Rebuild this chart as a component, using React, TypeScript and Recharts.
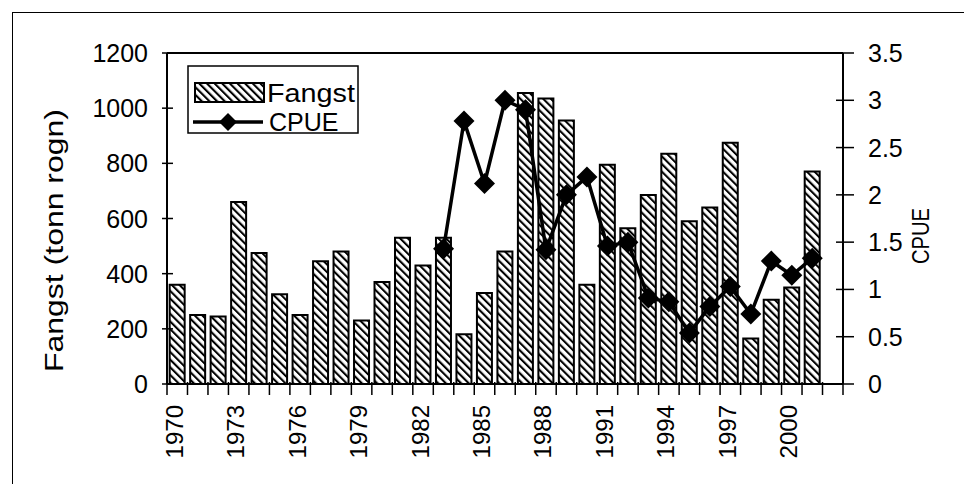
import React from 'react';
import { ComposedChart, Bar, Line, XAxis, YAxis, Legend, ReferenceLine } from 'recharts';

// Fangst (tonn rogn) og CPUE, 1970-2001 (2002 is an empty category, like the original sheet)
const years = [
  1970, 1971, 1972, 1973, 1974, 1975, 1976, 1977, 1978, 1979, 1980,
  1981, 1982, 1983, 1984, 1985, 1986, 1987, 1988, 1989, 1990, 1991,
  1992, 1993, 1994, 1995, 1996, 1997, 1998, 1999, 2000, 2001, 2002,
];
const fangst = [
  360, 250, 245, 660, 475, 325, 250, 445, 480, 230, 370,
  530, 430, 530, 180, 330, 480, 1055, 1035, 955, 360, 795,
  565, 685, 835, 590, 640, 875, 165, 305, 350, 770, null,
];
const cpue = [
  null, null, null, null, null, null, null, null, null, null, null,
  null, null, 1.43, 2.78, 2.12, 3.0, 2.9, 1.42, 2.0, 2.19, 1.46,
  1.5, 0.91, 0.87, 0.54, 0.82, 1.03, 0.74, 1.3, 1.15, 1.33, null,
];
const leftTicks = [0, 200, 400, 600, 800, 1000, 1200];
const rightTicks = [0, 0.5, 1, 1.5, 2, 2.5, 3, 3.5];

const data = years.map((y, i) => ({ year: String(y), fangst: fangst[i], cpue: cpue[i] }));

const W = 964;
const H = 484;
const PLOT_L = 167;
const PLOT_R = 843;
const PLOT_T = 53;
const PLOT_B = 384;
const FONT = '"Liberation Sans", Arial, sans-serif';
const band = (PLOT_R - PLOT_L) / years.length;

function XTick(props: any) {
  const { x, payload, index } = props;
  const left = x - band / 2;
  return (
    <g>
      <line x1={left} x2={left} y1={PLOT_B - 2} y2={PLOT_B + 11} stroke="#000" strokeWidth={1.5} />
      {index === years.length - 1 && (
        <line x1={left + band} x2={left + band} y1={PLOT_B - 2} y2={PLOT_B + 11} stroke="#000" strokeWidth={1.5} />
      )}
      {index % 3 === 0 && (
        <text
          transform={`translate(${x - 3},${405}) rotate(-90)`}
          textAnchor="end"
          dominantBaseline="central"
          fontSize={24}
          fontFamily={FONT}
          fill="#000"
        >
          {payload.value}
        </text>
      )}
    </g>
  );
}

function LeftTick(props: any) {
  const { y, payload } = props;
  return (
    <g>
      <line x1={PLOT_L - 5} x2={PLOT_L + 6} y1={y} y2={y} stroke="#000" strokeWidth={1.5} />
      <text x={148} y={y} textAnchor="end" dominantBaseline="central" fontSize={25} fontFamily={FONT} fill="#000">
        {payload.value}
      </text>
    </g>
  );
}

function RightTick(props: any) {
  const { y, payload } = props;
  return (
    <g>
      <line x1={PLOT_R - 7} x2={PLOT_R + 11} y1={y} y2={y} stroke="#000" strokeWidth={1.5} />
      <text x={868} y={y} textAnchor="start" dominantBaseline="central" fontSize={25} fontFamily={FONT} fill="#000">
        {payload.value}
      </text>
    </g>
  );
}

function Diamond(props: any) {
  const { cx, cy, index } = props;
  if (cx == null || cy == null || props.value == null) return <g key={`d-${index}`} />;
  const r = 10.5;
  return (
    <path
      key={`d-${index}`}
      d={`M${cx},${cy - r} L${cx + r},${cy} L${cx},${cy + r} L${cx - r},${cy} Z`}
      fill="#000"
    />
  );
}

function LegendBox() {
  return (
    <svg width={173} height={70} style={{ display: 'block' }}>
      <rect x={1} y={1} width={170} height={67} fill="#fff" stroke="#000" strokeWidth={1.5} />
      <rect x={8} y={18} width={69} height={19} fill="url(#hatch)" stroke="#000" strokeWidth={2} />
      <text x={80} y={28} dominantBaseline="central" fontSize={25} fontFamily={FONT} textLength={88} lengthAdjust="spacingAndGlyphs">
        Fangst
      </text>
      <line x1={6} x2={76} y1={57} y2={57} stroke="#000" strokeWidth={3.5} />
      <path d="M41,48 L50,57 L41,66 L32,57 Z" fill="#000" />
      <text x={82} y={57} dominantBaseline="central" fontSize={25} fontFamily={FONT}>
        CPUE
      </text>
    </svg>
  );
}

const leftLabel = () => (
  <text
    transform={`translate(54,${(PLOT_T + PLOT_B) / 2 + 22}) rotate(-90)`}
    textAnchor="middle"
    dominantBaseline="central"
    fontSize={25}
    fontFamily={FONT}
    textLength={263}
    lengthAdjust="spacingAndGlyphs"
    fill="#000"
  >
    Fangst (tonn rogn)
  </text>
);

const rightLabel = () => (
  <text
    transform="translate(921,236) rotate(-90)"
    textAnchor="middle"
    dominantBaseline="central"
    fontSize={23}
    fontFamily={FONT}
    textLength={56}
    lengthAdjust="spacingAndGlyphs"
    fill="#000"
  >
    CPUE
  </text>
);

export default function App() {
  return (
    <div style={{ position: 'absolute', left: 0, top: 0, width: W, height: H, background: '#fff', fontFamily: FONT }}>
      <div
        style={{
          position: 'absolute',
          left: 12,
          top: 12,
          width: W - 12,
          height: H - 12,
          borderTop: '1.5px solid #000',
          borderLeft: '1.5px solid #000',
          boxSizing: 'border-box',
        }}
      />
      <ComposedChart
        width={W}
        height={H}
        data={data}
        margin={{ top: PLOT_T, right: 0, bottom: 0, left: 0 }}
        barCategoryGap="13%"
        style={{ position: 'absolute', left: 0, top: 0 }}
      >
        <defs>
          <pattern id="hatch" patternUnits="userSpaceOnUse" width={5.4} height={5.4} patternTransform="rotate(-45)">
            <rect width={5.4} height={5.4} fill="#fff" />
            <line x1={0} y1={0} x2={0} y2={5.4} stroke="#000" strokeWidth={4.2} />
          </pattern>
        </defs>
        <XAxis
          dataKey="year"
          height={H - PLOT_B}
          interval={0}
          tickLine={false}
          axisLine={{ stroke: '#000', strokeWidth: 2 }}
          tick={<XTick />}
        />
        <YAxis
          yAxisId="left"
          width={PLOT_L}
          domain={[0, 1200]}
          ticks={leftTicks}
          tickLine={false}
          axisLine={{ stroke: '#000', strokeWidth: 2 }}
          tick={<LeftTick />}
          label={leftLabel}
        />
        <YAxis
          yAxisId="right"
          orientation="right"
          width={W - PLOT_R}
          domain={[0, 3.5]}
          ticks={rightTicks}
          tickLine={false}
          axisLine={{ stroke: '#000', strokeWidth: 2 }}
          tick={<RightTick />}
          label={rightLabel}
        />
        <ReferenceLine yAxisId="left" y={1200} stroke="#000" strokeWidth={2} />
        <Legend
          layout="horizontal"
          verticalAlign="middle"
          align="center"
          content={<LegendBox />}
          wrapperStyle={{ position: 'absolute', left: 187, top: 65, width: 173, height: 70 }}
        />
        <Bar
          yAxisId="left"
          dataKey="fangst"
          name="Fangst"
          fill="url(#hatch)"
          stroke="#000"
          strokeWidth={2}
          isAnimationActive={false}
        />
        <Line
          yAxisId="right"
          dataKey="cpue"
          name="CPUE"
          type="linear"
          stroke="#000"
          strokeWidth={3.5}
          dot={<Diamond />}
          activeDot={false}
          isAnimationActive={false}
        />
      </ComposedChart>
    </div>
  );
}
